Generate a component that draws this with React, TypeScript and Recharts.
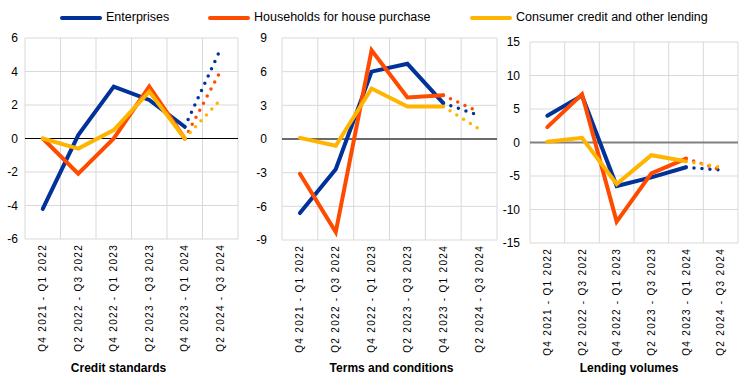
import React from 'react';
import { LineChart, Line, XAxis, YAxis, CartesianGrid, ReferenceLine } from 'recharts';

const FONT = '"Liberation Sans", Arial, sans-serif';

const periods = [
  'Q4 2021 - Q1 2022',
  'Q2 2022 - Q3 2022',
  'Q4 2022 - Q1 2023',
  'Q2 2023 - Q3 2023',
  'Q4 2023 - Q1 2024',
  'Q2 2024 - Q3 2024',
];

// Credit standards
const creditEnterprises = [-4.2, 0.2, 3.1, 2.3, 0.7, 5.3];
const creditHouseholds = [0.0, -2.1, 0.0, 3.1, 0.0, 4.0];
const creditConsumer = [0.0, -0.6, 0.5, 2.8, 0.0, 2.3];
const creditTicks = [-6, -4, -2, 0, 2, 4, 6];

// Terms and conditions
const termsEnterprises = [-6.6, -2.7, 6.0, 6.7, 3.2, 2.1];
const termsHouseholds = [-3.1, -8.3, 7.9, 3.7, 3.9, 2.4];
const termsConsumer = [0.1, -0.6, 4.5, 2.9, 2.9, 0.9];
const termsTicks = [-9, -6, -3, 0, 3, 6, 9];

// Lending volumes
const volumesEnterprises = [4.0, 7.0, -6.5, -5.2, -3.7, -4.1];
const volumesHouseholds = [2.3, 7.2, -11.8, -4.6, -2.4, -4.1];
const volumesConsumer = [0.1, 0.7, -6.2, -1.9, -2.8, -3.7];
const volumesTicks = [-15, -10, -5, 0, 5, 10, 15];

// last period is a forecast -> dotted segment
const LAST_ACTUAL = 4;

const series = [
  { key: 'ent', name: 'Enterprises', color: '#003299', legendLeft: 60 },
  { key: 'hh', name: 'Households for house purchase', color: '#ff4b00', legendLeft: 208 },
  { key: 'cons', name: 'Consumer credit and other lending', color: '#ffb400', legendLeft: 470 },
];

const buildRows = (values: number[][]) =>
  periods.map((period, i) => {
    const row: Record<string, any> = { period };
    series.forEach((s, k) => {
      row[s.key + 'Solid'] = i <= LAST_ACTUAL ? values[k][i] : null;
      row[s.key + 'Dotted'] = i >= LAST_ACTUAL ? values[k][i] : null;
    });
    return row;
  });

const CategoryTick = (props: any) => {
  const { x, y, payload } = props;
  return (
    <text
      transform={`translate(${x + 3.5},${y + 5}) rotate(-90)`}
      textAnchor="end"
      fontSize={10}
      letterSpacing={1.3}
      fill="#000"
      fontFamily={FONT}
    >
      {payload.value}
    </text>
  );
};

type PanelProps = {
  left: number;
  width: number;
  plotTop: number;
  plotBottom: number;
  yAxisWidth: number;
  rightMargin: number;
  tickGap: number;
  ticks: number[];
  values: number[][];
  title: string;
  titleShift: number;
  zeroColor: string;
  zeroWidth: number;
};

const Panel: React.FC<PanelProps> = (p) => {
  const data = buildRows(p.values);
  const height = 384;
  return (
    <div style={{ position: 'absolute', left: p.left, top: 0 }}>
      <LineChart
        width={p.width}
        height={height}
        data={data}
        margin={{ top: p.plotTop, right: p.rightMargin, left: 0, bottom: 0 }}
      >
        <CartesianGrid
          stroke="#d9d9d9"
          verticalCoordinatesGenerator={({ offset }: any) =>
            periods.concat(['']).map((_, i) => offset.left + (i * offset.width) / periods.length)
          }
        />
        <XAxis
          dataKey="period"
          scale="band"
          interval={0}
          axisLine={false}
          tickLine={false}
          tickSize={0}
          tickMargin={0}
          height={height - p.plotBottom}
          tick={<CategoryTick />}
          label={(lp: any) => (
            <text
              x={lp.viewBox.x + lp.viewBox.width / 2 + p.titleShift}
              y={lp.viewBox.y + lp.viewBox.height - 12}
              textAnchor="middle"
              fontSize={12}
              fontWeight="bold"
              fill="#000"
              fontFamily={FONT}
            >
              {p.title}
            </text>
          )}
        />
        <YAxis
          domain={[p.ticks[0], p.ticks[p.ticks.length - 1]]}
          ticks={p.ticks}
          interval={0}
          axisLine={false}
          tickLine={false}
          tickSize={0}
          tickMargin={p.tickGap}
          width={p.yAxisWidth}
          tick={{ fill: '#000', fontSize: 12, fontFamily: FONT }}
        />
        <ReferenceLine y={0} stroke={p.zeroColor} strokeWidth={p.zeroWidth} />
        {series.map((s) => (
          <Line
            key={s.key + 'Solid'}
            dataKey={s.key + 'Solid'}
            stroke={s.color}
            strokeWidth={4}
            strokeLinecap="round"
            dot={false}
            activeDot={false}
            type="linear"
            isAnimationActive={false}
          />
        ))}
        {series.map((s) => (
          <Line
            key={s.key + 'Dotted'}
            dataKey={s.key + 'Dotted'}
            stroke={s.color}
            strokeWidth={3.5}
            strokeLinecap="round"
            strokeDasharray="0 8"
            dot={false}
            activeDot={false}
            type="linear"
            isAnimationActive={false}
          />
        ))}
      </LineChart>
    </div>
  );
};

export default function App() {
  return (
    <div
      style={{
        position: 'absolute',
        left: 0,
        top: 0,
        width: 744,
        height: 384,
        background: '#fff',
        fontFamily: FONT,
      }}
    >
      {series.map((s) => (
        <div
          key={s.key}
          style={{
            position: 'absolute',
            left: s.legendLeft,
            top: 10,
            height: 15,
            lineHeight: '15px',
            fontSize: 12.5,
            display: 'flex',
            alignItems: 'center',
            whiteSpace: 'nowrap',
            color: '#000',
          }}
        >
          <span
            style={{
              display: 'inline-block',
              width: 42,
              height: 4,
              borderRadius: 2,
              background: s.color,
              marginRight: 4,
            }}
          />
          <span>{s.name}</span>
        </div>
      ))}
      <Panel
        left={0}
        width={244}
        plotTop={38}
        plotBottom={239}
        yAxisWidth={25}
        rightMargin={6}
        tickGap={7}
        ticks={creditTicks}
        values={[creditEnterprises, creditHouseholds, creditConsumer]}
        title="Credit standards"
        titleShift={-13}
        zeroColor="#000"
        zeroWidth={1.2}
      />
      <Panel
        left={244}
        width={256}
        plotTop={38}
        plotBottom={240}
        yAxisWidth={38}
        rightMargin={3}
        tickGap={15}
        ticks={termsTicks}
        values={[termsEnterprises, termsHouseholds, termsConsumer]}
        title="Terms and conditions"
        titleShift={2}
        zeroColor="#404040"
        zeroWidth={1.5}
      />
      <Panel
        left={500}
        width={244}
        plotTop={42}
        plotBottom={243}
        yAxisWidth={30}
        rightMargin={6}
        tickGap={10}
        ticks={volumesTicks}
        values={[volumesEnterprises, volumesHouseholds, volumesConsumer]}
        title="Lending volumes"
        titleShift={-5}
        zeroColor="#808080"
        zeroWidth={2}
      />
    </div>
  );
}
